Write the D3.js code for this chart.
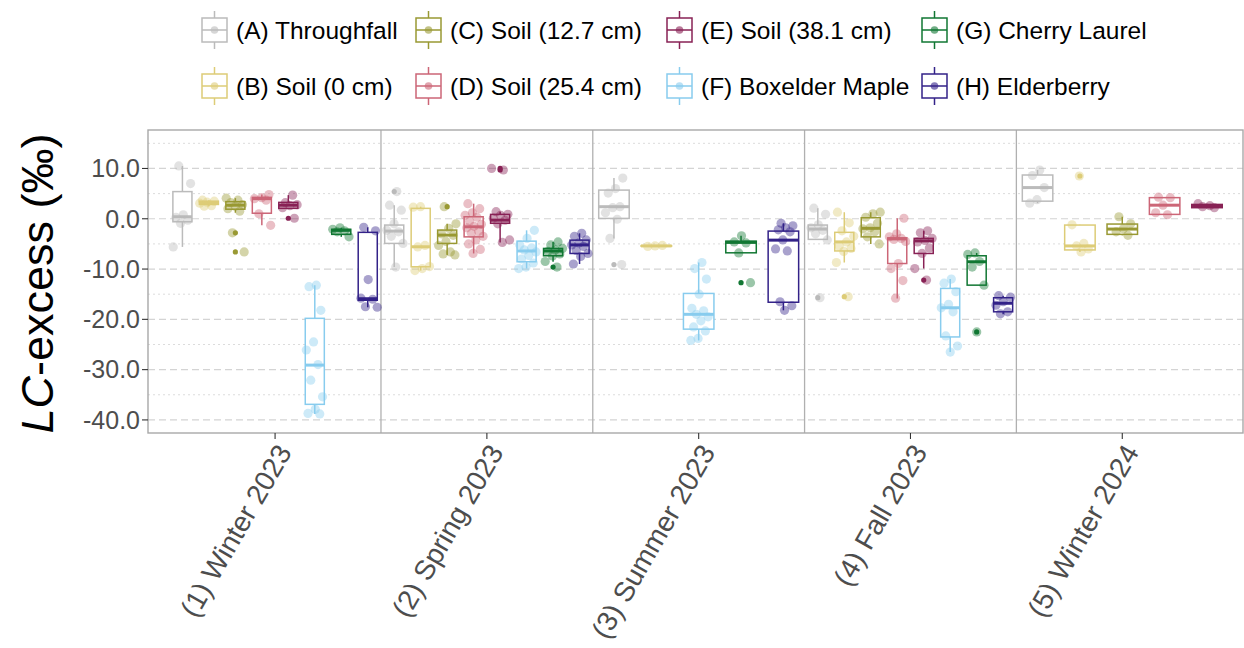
<!DOCTYPE html>
<html><head><meta charset="utf-8">
<script src="https://cdn.jsdelivr.net/npm/d3@7"></script>
<style>
html,body{margin:0;padding:0;background:#fff;}
svg{display:block;font-family:"Liberation Sans",Arial,sans-serif;}
</style></head>
<body>
<svg id="chart" width="1244" height="648"></svg>
<script>
// ---------- DATA ----------
const groupKeys   = ["A","B","C","D","E","F","G","H"];
const groupLabels = ["(A) Throughfall","(B) Soil (0 cm)","(C) Soil (12.7 cm)","(D) Soil (25.4 cm)",
                     "(E) Soil (38.1 cm)","(F) Boxelder Maple","(G) Cherry Laurel","(H) Elderberry"];
const groupColors = ["#BBBBBB","#DDCC77","#999933","#CC6677","#882255","#88CCEE","#117733","#332288"];
const seasons     = ["(1) Winter 2023","(2) Spring 2023","(3) Summer 2023","(4) Fall 2023","(5) Winter 2024"];
const seasonGroups = [
  ["A","B","C","D","E","F","G","H"],
  ["A","B","C","D","E","F","G","H"],
  ["A","B","F","G","H"],
  ["A","B","C","D","E","F","G","H"],
  ["A","B","C","D","E"]
];
const yTicks = [10, 0, -10, -20, -30, -40];
const yTickLabels = ["10.0","0.0","-10.0","-20.0","-30.0","-40.0"];

// box stats: [lower whisker, Q1, median, Q3, upper whisker]
const winter2023Stats = [
  [-5.6,-0.6,0.4,5.4,10.5],[2.5,2.85,3.2,3.5,3.7],[1.2,1.9,2.7,3.4,4.1],[-1.3,1.1,4.0,4.25,4.8],
  [2.0,2.07,2.7,3.26,4.7],[-38.8,-36.9,-29.1,-19.8,-13.2],[-3.6,-3.1,-2.3,-2.1,-1.8],[-17.6,-16.2,-15.9,-2.7,-1.7]
];
const winter2023Points = [
  [10.5,7.0,0.8,0.3,-0.3,-0.9,-5.6],[3.7,3.5,3.3,3.1,2.6,2.5],[4.1,3.7,3.2,2.8,2.5,2.0,1.5,-2.8,-6.6],
  [4.8,4.2,4.0,3.7,1.0,-1.3],[4.7,3.2,2.8,2.6,2.2,0.1],
  [-13.2,-13.5,-18.2,-24.5,-26.1,-29.0,-32.1,-35.4,-37.9,-38.7,-38.8],[-1.8,-2.1,-2.4,-2.6,-3.6],
  [-1.7,-2.4,-12.1,-15.8,-16.0,-17.5,-17.6]
];
const spring2023Stats = [
  [-9.6,-4.9,-2.45,-1.25,2.7],[-10.3,-9.55,-5.57,2.07,2.4],[-7.2,-4.9,-3.25,-2.25,-1.0],[-6.9,-3.6,-1.6,0.4,3.0],
  [-4.7,-0.9,-0.27,0.87,1.4],[-9.9,-8.55,-6.4,-4.45,-2.3],[-8.55,-7.36,-6.4,-5.9,-4.6],[-9.0,-6.9,-5.2,-4.25,-2.9]
];
const spring2023Points = [
  [5.4,2.7,1.7,-1.0,-2.3,-2.6,-3.5,-4.9,-9.6],[2.4,2.3,-5.3,-5.6,-9.5,-9.9,-10.3],
  [2.4,-1.0,-1.9,-3.0,-3.3,-4.5,-5.3,-6.6,-7.0,-7.2],
  [3.0,2.0,1.2,0.7,0.3,-0.5,-1.1,-1.5,-1.8,-2.5,-2.9,-3.5,-4.2,-5.0,-6.1,-6.9],
  [10.0,9.7,1.4,0.9,0.7,0.1,-0.3,-1.0,-4.2,-4.7],[-2.3,-3.9,-5.2,-5.8,-6.2,-6.6,-7.3,-8.0,-8.8,-9.6,-9.9],
  [-4.6,-5.2,-5.9,-6.2,-6.5,-7.0,-7.4,-8.5,-9.6],[-2.9,-3.5,-4.2,-4.8,-5.2,-5.5,-6.3,-6.9,-7.5,-9.0]
];
const summer2023Stats = [
  [-3.9,0.07,2.4,5.7,8.1],[-5.5,-5.4,-5.4,-5.35,-5.3],[-24.2,-21.95,-19.0,-14.85,-8.7],
  [-6.8,-6.77,-4.7,-4.45,-3.4],[-18.2,-16.6,-4.25,-2.45,-0.9]
];
const summer2023Points = [
  [8.1,6.0,5.1,2.4,2.2,1.2,-0.1,-3.9,-9.1],[-5.3,-5.4,-5.5],
  [-8.7,-9.9,-12.0,-15.0,-17.8,-18.3,-19.0,-19.5,-20.3,-21.5,-22.3,-23.8,-24.2],
  [-3.4,-4.6,-4.8,-6.8,-12.7],[-0.9,-1.4,-1.8,-2.2,-2.6,-4.2,-6.0,-6.4,-16.5,-17.3,-18.2]
];
const fall2023Stats = [
  [-4.2,-4.1,-2.05,-1.25,2.1],[-8.7,-6.4,-4.6,-2.7,1.3],[-5.0,-3.6,-1.9,0.2,1.3],[-15.85,-8.9,-4.0,-3.8,0.1],
  [-9.9,-6.9,-4.4,-3.9,-2.4],[-26.5,-23.5,-17.7,-13.85,-12.0],[-13.2,-13.2,-8.55,-7.36,-6.8],[-19.0,-18.5,-16.8,-15.7,-15.3]
];
const fall2023Points = [
  [2.1,0.9,-1.2,-1.8,-2.3,-3.0,-4.2,-15.7],[1.3,-0.8,-2.4,-3.5,-4.6,-5.4,-5.9,-6.5,-8.7,-15.5],
  [1.3,1.0,0.3,-0.9,-1.8,-2.0,-2.6,-3.6,-5.0],[0.1,-3.0,-3.6,-3.9,-4.1,-4.5,-8.9,-9.9,-12.3,-15.8],
  [-2.4,-2.8,-3.9,-4.3,-4.6,-5.8,-6.9,-9.9,-12.2],[-12.0,-12.8,-14.5,-17.0,-17.7,-18.5,-23.3,-25.3,-26.5],
  [-6.8,-7.1,-8.5,-9.6,-13.2,-22.5],[-15.3,-15.6,-16.5,-17.2,-18.5,-18.9]
];
const winter2024Stats = [
  [3.1,3.5,6.2,8.7,9.7],[-6.6,-6.2,-5.4,-1.25,-1.2],[-3.3,-3.1,-2.05,-1.05,0.4],[0.8,0.87,2.7,4.2,4.3],[2.2,2.2,2.45,2.85,3.0]
];
const winter2024Points = [
  [9.7,8.6,6.2,3.8,3.1],[8.5,-1.2,-4.9,-5.4,-6.0,-6.6],[0.4,-1.0,-2.0,-2.6,-3.3],[4.3,4.2,2.7,1.2,0.8],[3.0,2.6,2.4,2.2]
];
const seasonStats  = [winter2023Stats, spring2023Stats, summer2023Stats, fall2023Stats, winter2024Stats];
const seasonPoints = [winter2023Points, spring2023Points, summer2023Points, fall2023Points, winter2024Points];

// ---------- LAYOUT ----------
const svg = d3.select("#chart");
const P = {left:148, right:1243, top:130, bottom:433};
const x = d3.scaleLinear().domain([0.4, 5.57]).range([P.left, P.right]);
const y = d3.scaleLinear().domain([-42.6, 17.65]).range([P.bottom, P.top]);
const colorOf = d3.scaleOrdinal().domain(groupKeys).range(groupColors);
const dodgeW = 1.0;

// grid
const gGrid = svg.append("g");
const minor = [15,5,-5,-15,-25,-35];
gGrid.selectAll(".minor").data(minor).join("line")
  .attr("x1",P.left).attr("x2",P.right).attr("y1",d=>y(d)).attr("y2",d=>y(d))
  .attr("stroke","#dcdcdc").attr("stroke-width",1).attr("stroke-dasharray","2,3");
gGrid.selectAll(".major").data(yTicks).join("line")
  .attr("x1",P.left).attr("x2",P.right).attr("y1",d=>y(d)).attr("y2",d=>y(d))
  .attr("stroke","#d4d4d4").attr("stroke-width",1.2).attr("stroke-dasharray","7,4");

// season separators
svg.append("g").selectAll("line").data([1.5,2.5,3.5,4.5]).join("line")
  .attr("x1",d=>x(d)).attr("x2",d=>x(d)).attr("y1",P.top).attr("y2",P.bottom)
  .attr("stroke","#b0b0b0").attr("stroke-width",1.3);

// boxes + points
const gData = svg.append("g");
function jit(k){ const f = (k*0.61803398875 + 0.31) % 1; return (f-0.5)*2; }
seasonGroups.forEach((grps, si) => {
  const n = grps.length, slot = dodgeW/n;
  grps.forEach((g, gi) => {
    const cx = (si+1) + (gi - (n-1)/2)*slot;
    const bw = x(cx + slot*0.36) - x(cx - slot*0.36);
    const s = seasonStats[si][gi];
    const col = colorOf(g);
    const X = x(cx);
    const gg = gData.append("g");
    gg.append("line").attr("x1",X).attr("x2",X).attr("y1",y(s[3])).attr("y2",y(s[4]))
      .attr("stroke",col).attr("stroke-width",1.5);
    gg.append("line").attr("x1",X).attr("x2",X).attr("y1",y(s[1])).attr("y2",y(s[0]))
      .attr("stroke",col).attr("stroke-width",1.5);
    gg.append("rect").attr("x",X-bw/2).attr("width",bw)
      .attr("y",y(s[3])).attr("height",Math.max(0.5,y(s[1])-y(s[3])))
      .attr("fill","#fff").attr("stroke",col).attr("stroke-width",1.5);
    gg.append("line").attr("x1",X-bw/2).attr("x2",X+bw/2).attr("y1",y(s[2])).attr("y2",y(s[2]))
      .attr("stroke",col).attr("stroke-width",3);
    const pts = seasonPoints[si][gi];
    pts.filter(v => v < s[0]-1e-9 || v > s[4]+1e-9).forEach(v => {
      gg.append("circle").attr("cx",X).attr("cy",y(v)).attr("r",2.6).attr("fill",col);
    });
    pts.forEach((v, k) => {
      const jx = jit(k + gi*3 + si*7) * 0.045;
      gg.append("circle").attr("cx",x(cx + jx)).attr("cy",y(v)).attr("r",4.6)
        .attr("fill",col).attr("fill-opacity",0.42);
    });
  });
});

// panel border
svg.append("rect").attr("x",P.left).attr("y",P.top).attr("width",P.right-P.left).attr("height",P.bottom-P.top)
  .attr("fill","none").attr("stroke","#a8a8a8").attr("stroke-width",1.4);

// y axis
const gy = svg.append("g");
gy.selectAll("line").data(yTicks).join("line")
  .attr("x1",P.left-6).attr("x2",P.left).attr("y1",d=>y(d)).attr("y2",d=>y(d))
  .attr("stroke","#333").attr("stroke-width",1.1);
gy.selectAll("text").data(yTicks).join("text")
  .attr("x",P.left-8).attr("y",d=>y(d)).attr("dy","0.35em")
  .attr("text-anchor","end").attr("font-size",25).attr("fill","#4d4d4d")
  .text((d,i)=>yTickLabels[i]);

// x axis
const gx = svg.append("g");
gx.selectAll("line").data(seasons).join("line")
  .attr("x1",(d,i)=>x(i+1)).attr("x2",(d,i)=>x(i+1)).attr("y1",P.bottom).attr("y2",P.bottom+6)
  .attr("stroke","#333").attr("stroke-width",1.1);
gx.selectAll("text").data(seasons).join("text")
  .attr("transform",(d,i)=>`translate(${x(i+1)},${P.bottom+9}) rotate(-60)`)
  .attr("text-anchor","end").attr("dy","0.72em").attr("font-size",28).attr("fill","#4d4d4d")
  .text(d=>d);

// y title
const yt = svg.append("text")
  .attr("transform",`translate(53,${(P.top+P.bottom)/2 + 2}) rotate(-90)`)
  .attr("text-anchor","middle").attr("font-size",45).attr("fill","#000");
yt.append("tspan").attr("font-style","italic").text("LC");
yt.append("tspan").text("-excess (\u2030)");

// legend
const legCols = [202, 416, 667, 922];
const legRows = [30, 86];
const gl = svg.append("g");
groupKeys.forEach((g, i) => {
  const col = Math.floor(i/2), row = i%2;
  const lx = legCols[col], cy = legRows[row];
  const c = groupColors[i];
  const k = gl.append("g");
  k.append("line").attr("x1",lx+12.5).attr("x2",lx+12.5).attr("y1",cy-19).attr("y2",cy+19)
    .attr("stroke",c).attr("stroke-width",1.5);
  k.append("rect").attr("x",lx).attr("y",cy-12).attr("width",25).attr("height",24)
    .attr("fill","#fff").attr("stroke",c).attr("stroke-width",1.5);
  k.append("line").attr("x1",lx).attr("x2",lx+25).attr("y1",cy).attr("y2",cy)
    .attr("stroke",c).attr("stroke-width",1.5);
  k.append("circle").attr("cx",lx+12.5).attr("cy",cy).attr("r",3.8).attr("fill",c).attr("fill-opacity",0.6);
  k.append("text").attr("x",lx+34).attr("y",cy).attr("dy","0.35em")
    .attr("font-size",24.5).attr("fill","#000").text(groupLabels[i]);
});
</script>
</body></html>
